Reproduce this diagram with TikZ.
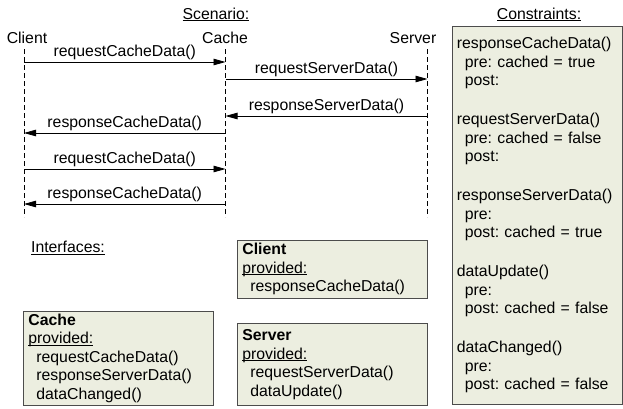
\documentclass[tikz,border=0pt]{standalone}
\usepackage{fontspec}
\setmainfont{Liberation Sans}
\usetikzlibrary{arrows.meta, shadows}

\definecolor{notefill}{RGB}{236,238,224}
\newcommand{\ind}{\hspace*{8pt}}
% underline close to the baseline, through descenders
\newcommand{\undl}[1]{\leavevmode\setbox0\hbox{#1}\rlap{\rule[-1.8pt]{\wd0}{0.8pt}}#1}
\frenchspacing

\begin{document}
\begin{tikzpicture}[x=1pt, y=-1pt]
  \tikzset{txt/.style = {font=\fontsize{15.8}{18.5}\selectfont, inner sep=0pt}}
  \tikzset{lifeline/.style = {dash pattern=on 5pt off 3pt, line width=0.8pt}}
  \tikzset{msg/.style = {-{Triangle[length=12pt,width=6.5pt]}, line width=0.8pt}}
  \tikzset{msgtext/.style = {txt, midway, above=1.5pt}}
  \tikzset{note/.style = {draw=black!70, fill=notefill, line width=0.8pt,
      anchor=north west, align=left, inner ysep=0pt,
      font=\fontsize{15.8}{18.5}\selectfont,
      drop shadow={shadow xshift=0.8pt, shadow yshift=-0.8pt, fill=black!60, opacity=1}}}

  \useasboundingbox (0,0) rectangle (623,408);

  % headings
  \node[txt, anchor=base] (scen) at (216,19) {\undl{Scenario:}};
  \node[txt, anchor=base] (cons) at (539,19) {\undl{Constraints:}};

  % objects and lifelines
  \node[txt, anchor=base] (client) at (27,43.5) {Client};
  \node[txt, anchor=base] (cache) at (225,43.5) {Cache};
  \node[txt, anchor=base] (server) at (413,43.5) {Server};

  \coordinate (cl) at (24,49);
  \coordinate (ca) at (225.5,49);
  \coordinate (sv) at (427.5,49);
  \coordinate (bottom) at (0,217);

  \draw[lifeline] (cl) -- (cl |- bottom);
  \draw[lifeline] (ca) -- (ca |- bottom);
  \draw[lifeline] (sv) -- (sv |- bottom);

  % messages
  \coordinate (m1) at (0,62);
  \coordinate (m2) at (0,79);
  \coordinate (m3) at (0,116);
  \coordinate (m4) at (0,133);
  \coordinate (m5) at (0,169);
  \coordinate (m6) at (0,204);

  \draw[msg] (cl |- m1) -- (ca |- m1) node[msgtext] {requestCacheData()};
  \draw[msg] (ca |- m2) -- (sv |- m2) node[msgtext] {requestServerData()};
  \draw[msg] (sv |- m3) -- (ca |- m3) node[msgtext] {responseServerData()};
  \draw[msg] (ca |- m4) -- (cl |- m4) node[msgtext] {responseCacheData()};
  \draw[msg] (cl |- m5) -- (ca |- m5) node[msgtext] {requestCacheData()};
  \draw[msg] (ca |- m6) -- (cl |- m6) node[msgtext] {responseCacheData()};

  % interfaces
  \node[txt, anchor=base] (ifaces) at (68,252.5) {\undl{Interfaces:}};

  \node[note, text width=180pt, inner xsep=5pt, minimum height=58pt] (clientif) at (237,240)
    {\textbf{Client}\\
     \undl{provided:}\\
     \ind responseCacheData()};

  \node[note, text width=180pt, inner xsep=5pt, minimum height=94pt] (cacheif) at (23,311)
    {\textbf{Cache}\\
     \undl{provided:}\\
     \ind requestCacheData()\\
     \ind responseServerData()\\
     \ind dataChanged()};

  \node[note, text width=180pt, inner xsep=5pt, minimum height=82pt] (serverif) at (237,323)
    {\textbf{Server}\\
     \undl{provided:}\\
     \ind requestServerData()\\
     \ind dataUpdate()};

  % constraints
  \node[note, text width=160.5pt, inner xsep=4.5pt, minimum height=378pt] (constr) at (452,26)
    {responseCacheData()\\
     \ind pre: cached = true\\
     \ind post:\\[20.5pt]
     requestServerData()\\
     \ind pre: cached = false\\
     \ind post:\\[20.5pt]
     responseServerData()\\
     \ind pre:\\
     \ind post: cached = true\\[20.5pt]
     dataUpdate()\\
     \ind pre:\\
     \ind post: cached = false\\[20.5pt]
     dataChanged()\\
     \ind pre:\\
     \ind post: cached = false};
\end{tikzpicture}
\end{document}
